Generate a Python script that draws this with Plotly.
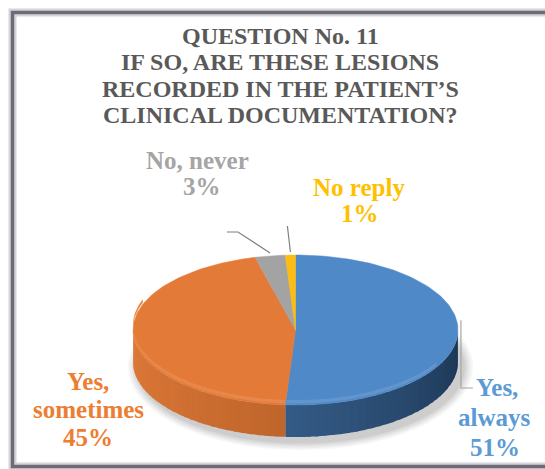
import numpy as np
import plotly.graph_objects as go

# ---------------- data ----------------
categories = ["Yes, always", "Yes, sometimes", "No, never", "No reply"]
values = [51, 45, 3, 1]
label_lines = [["Yes,", "always"], ["Yes,", "sometimes"], ["No, never"], ["No reply"]]
title_lines = ["QUESTION No. 11", "IF SO, ARE THESE LESIONS",
               "RECORDED IN THE PATIENT\u2019S", "CLINICAL DOCUMENTATION?"]

# ---------------- styles ----------------
top_colors = ["#4f89c8", "#e47a37", "#a3a3a3", "#fbbd14"]
side_light = ["#4a7fb5", "#e07a38", "#9a9a9a", "#e0a800"]
side_dark = ["#1b3452", "#9c4f1e", "#5a5a5a", "#8a6a00"]
text_colors = ["#5b9bd5", "#ed7d31", "#a5a5a5", "#ffc000"]
SERIF = "Liberation Serif"

W, H = 545, 469
CX, CY, RX, RY, DEPTH = 295.5, 330.0, 162.5, 75.0, 32.0


def pt(theta_deg, dy=0.0, sx=1.0, sy=1.0):
    t = np.radians(theta_deg)
    return CX + RX * sx * np.sin(t), CY - RY * sy * np.cos(t) + dy


def hex2rgb(h):
    h = h.lstrip("#")
    return np.array([int(h[i:i + 2], 16) for i in (0, 2, 4)], dtype=float)


def mix(c1, c2, t):
    c = hex2rgb(c1) * (1 - t) + hex2rgb(c2) * t
    return "rgb(%d,%d,%d)" % tuple(np.clip(c, 0, 255).round())


fig = go.Figure()

# shadow under the pie
for k, a in enumerate([0.035, 0.035, 0.04, 0.045, 0.05]):
    grow = 10 - 2 * k
    th = np.linspace(0, 360, 181)
    xs = CX + 5 + (RX + grow) * np.sin(np.radians(th))
    ys = CY + DEPTH + 5 - (RY + grow * 0.8) * np.cos(np.radians(th))
    fig.add_trace(go.Scatter(x=xs, y=ys, fill="toself", mode="none",
                             fillcolor="rgba(0,0,0,%.3f)" % a, hoverinfo="skip",
                             showlegend=False))

total = float(sum(values))
bounds = np.concatenate([[0.0], np.cumsum(values) / total * 360.0])

# side (rim) of the visible front half
for i in range(len(values)):
    a0, a1 = max(bounds[i], 90.0), min(bounds[i + 1], 270.0)
    if a1 <= a0:
        continue
    n = max(2, int(np.ceil((a1 - a0) / 3.0)) + 1)
    edges = np.linspace(a0, a1, n)
    for j in range(n - 1):
        e0, e1 = edges[j], min(edges[j + 1] + 1.0, a1)
        th = np.linspace(e0, e1, 5)
        xt, yt = pt(th)
        xb, yb = pt(th[::-1], dy=DEPTH)
        tm = (270.0 - (e0 + e1) / 2) / 180.0
        col = mix(side_light[i], side_dark[i], tm)
        fig.add_trace(go.Scatter(x=np.r_[xt, xb, xt[0]], y=np.r_[yt, yb, yt[0]],
                                 fill="toself", mode="none",
                                 fillcolor=col, hoverinfo="skip", showlegend=False))

# top surfaces
for i in range(len(values)):
    th = np.linspace(bounds[i], bounds[i + 1], max(3, int((bounds[i + 1] - bounds[i]) / 1.5) + 2))
    xa, ya = pt(th)
    xs = np.r_[CX, xa, CX]
    ys = np.r_[CY, ya, CY]
    fig.add_trace(go.Scatter(x=xs, y=ys, fill="toself", mode="lines",
                             line=dict(color=top_colors[i], width=0.5),
                             fillcolor=top_colors[i], name=categories[i],
                             hoverinfo="skip", showlegend=False))

# light bevel band along the front edge of the top surface
for i in range(len(values)):
    a0, a1 = max(bounds[i], 120.0), min(bounds[i + 1], 290.0)
    if a1 <= a0:
        continue
    th = np.linspace(a0, a1, 60)
    xo, yo = pt(th, dy=-1.5)
    xi, yi = pt(th[::-1], dy=-5.0)
    col = mix(top_colors[i], "#ffffff", 0.10)
    fig.add_trace(go.Scatter(x=np.r_[xo, xi, xo[0]], y=np.r_[yo, yi, yo[0]],
                             fill="toself", mode="none", fillcolor=col,
                             hoverinfo="skip", showlegend=False))

# leader lines (from slice mid points)
mids = (bounds[:-1] + bounds[1:]) / 2
lx, ly = pt(mids[2], dy=-3)
fig.add_trace(go.Scatter(x=[227, 238, lx], y=[232, 232, ly], mode="lines",
                         line=dict(color="#7f7f7f", width=1.2), hoverinfo="skip", showlegend=False))
lx, ly = pt(mids[3], dy=-3)
fig.add_trace(go.Scatter(x=[lx - 3, lx], y=[226, ly], mode="lines",
                         line=dict(color="#7f7f7f", width=1.2), hoverinfo="skip", showlegend=False))
lx, ly = pt(mids[0])
fig.add_trace(go.Scatter(x=[lx + 3, lx + 3, 473], y=[ly - 12, 388, 388], mode="lines",
                         line=dict(color="#a6a6a6", width=1.2), hoverinfo="skip", showlegend=False))

# annotations: title
ann = []
for k, line in enumerate(title_lines):
    ann.append(dict(x=280, y=35.5 + 26.5 * k, xref="x", yref="y", text="<b>%s</b>" % line,
                    showarrow=False, xanchor="center", yanchor="middle",
                    font=dict(family=SERIF, size=24, color="#595959")))

# slice labels
label_pos = {
    0: dict(x=[497, 494, 495], y=[387, 417, 447], size=25),
    1: dict(x=[88, 88, 88], y=[381, 409, 437], size=25),
    2: dict(x=[197, 202], y=[160, 186], size=25),
    3: dict(x=[359, 360], y=[187, 213], size=25),
}
for i in range(len(values)):
    lines = label_lines[i] + ["%d%%" % values[i]]
    p = label_pos[i]
    for k, line in enumerate(lines):
        ann.append(dict(x=p["x"][k], y=p["y"][k], xref="x", yref="y", text="<b>%s</b>" % line,
                        showarrow=False, xanchor="center", yanchor="middle",
                        font=dict(family=SERIF, size=p["size"], color=text_colors[i])))

shapes = [
    dict(type="rect", xref="x", yref="y", x0=12.5, y0=12.5, x1=580, y1=466.5,
         line=dict(color="#d4d4da", width=8), layer="below"),
    dict(type="rect", xref="x", yref="y", x0=12.5, y0=12.5, x1=580, y1=466.5,
         line=dict(color="#6c6c74", width=3.5), layer="below"),
]

fig.update_layout(
    width=W, height=H, margin=dict(l=0, r=0, t=0, b=0),
    paper_bgcolor="white", plot_bgcolor="white",
    xaxis=dict(range=[0, W], visible=False, fixedrange=True),
    yaxis=dict(range=[H, 0], visible=False, fixedrange=True),
    annotations=ann, shapes=shapes, showlegend=False,
)

fig.write_html("out.html")
